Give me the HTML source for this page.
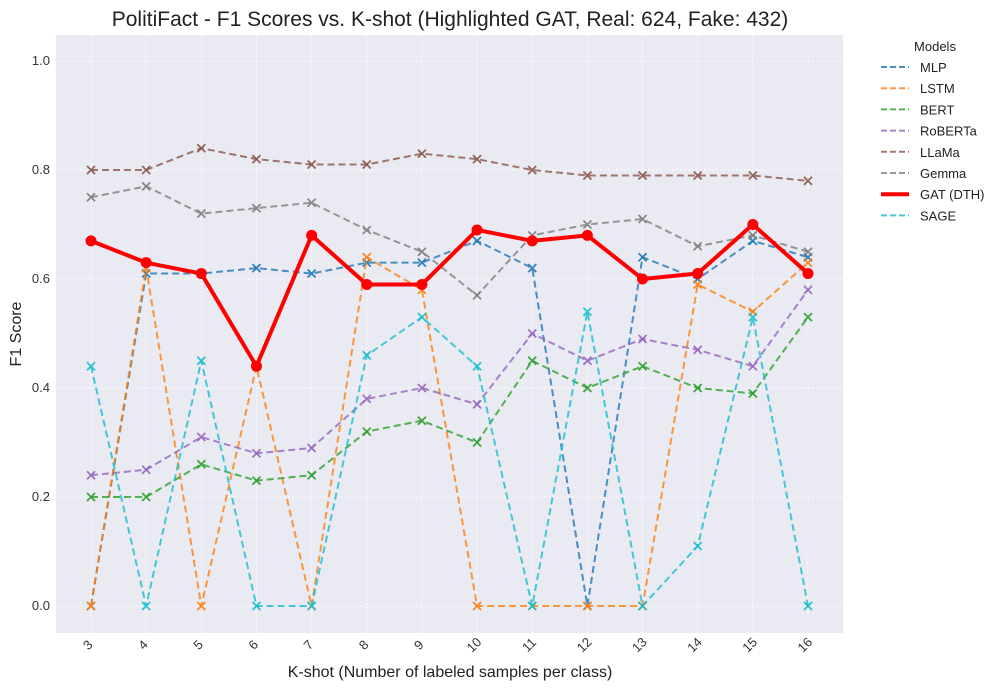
<!DOCTYPE html>
<html><head><meta charset="utf-8"><style>
body{margin:0;background:#fff;font-family:"Liberation Sans",sans-serif;}
svg text{font-family:"Liberation Sans",sans-serif;}
</style></head><body>
<svg id="chart" width="1004" height="690" xmlns="http://www.w3.org/2000/svg">
<rect x="0" y="0" width="1004" height="690" fill="#fff"/>
<text x="450" y="26" text-anchor="middle" font-size="21" fill="#222">PolitiFact - F1 Scores vs. K-shot (Highlighted GAT, Real: 624, Fake: 432)</text>
<rect x="56" y="35" width="787" height="598" fill="#eaeaf2"/>
<g id="grid"></g><g id="axes"></g><g id="series"></g>
<text x="450" y="677" text-anchor="middle" font-size="16" fill="#222">K-shot (Number of labeled samples per class)</text>
<text x="21" y="334" text-anchor="middle" font-size="16" fill="#222" transform="rotate(-90 21 334)">F1 Score</text>
<g id="legend"></g>
</svg>
<script>
const kshots=[3,4,5,6,7,8,9,10,11,12,13,14,15,16];
const yTicks=[0.0,0.2,0.4,0.6,0.8,1.0];
const seriesNames=["MLP","LSTM","BERT","RoBERTa","LLaMa","Gemma","GAT (DTH)","SAGE"];
const mlp=[0,.61,.61,.62,.61,.63,.63,.67,.62,0,.64,.60,.67,.64];
const lstm=[0,.62,0,.44,0,.64,.58,0,0,0,0,.59,.54,.63];
const bert=[.20,.20,.26,.23,.24,.32,.34,.30,.45,.40,.44,.40,.39,.53];
const roberta=[.24,.25,.31,.28,.29,.38,.40,.37,.50,.45,.49,.47,.44,.58];
const llama=[.80,.80,.84,.82,.81,.81,.83,.82,.80,.79,.79,.79,.79,.78];
const gemma=[.75,.77,.72,.73,.74,.69,.65,.57,.68,.70,.71,.66,.68,.65];
const gat=[.67,.63,.61,.44,.68,.59,.59,.69,.67,.68,.60,.61,.70,.61];
const sage=[.44,0,.45,0,0,.46,.53,.44,0,.54,0,.11,.53,0];
const colors=["#1f77b4","#ff7f0e","#2ca02c","#9467bd","#8c564b","#7f7f7f","#ff0000","#17becf"];
const allData=[mlp,lstm,bert,roberta,llama,gemma,gat,sage];
const NS="http://www.w3.org/2000/svg";
const xS=i=>91+i*(717/13);
const yS=v=>606-545*v;
function mk(tag,attrs,parent){const e=document.createElementNS(NS,tag);for(const k in attrs)e.setAttribute(k,attrs[k]);parent.appendChild(e);return e;}
const grid=document.getElementById('grid'),axes=document.getElementById('axes'),ser=document.getElementById('series'),leg=document.getElementById('legend');
yTicks.forEach(t=>{
 const l=mk('line',{x1:56,x2:843,y1:yS(t),y2:yS(t),stroke:'#fff','stroke-width':0.8,'stroke-dasharray':'2,2'},grid);
 
 
 const tx=mk('text',{x:50,y:yS(t)+4,'text-anchor':'end','font-size':13,fill:'#333'},axes);
 tx.textContent=t.toFixed(1);
 
 
});
kshots.forEach((k,i)=>{
 const l=mk('line',{x1:xS(i),x2:xS(i),y1:35,y2:633,stroke:'#fff','stroke-width':0.8,'stroke-dasharray':'2,2'},grid);
 
 
 const x=xS(i),y=648;
 const tx=mk('text',{x:x,y:y,'text-anchor':'middle','font-size':13,fill:'#333',transform:`rotate(-45 ${x} ${y})`},axes);
 tx.textContent=k;
 
 
});
const order=[0,1,2,3,4,5,7,6];
order.forEach(si=>{
 const d=allData[si],c=colors[si],isGat=si===6;
 const g=mk('g',{},ser);
 
 
 const pts=d.map((v,i)=>xS(i)+','+yS(v)).join(' ');
 const pl=mk('polyline',{points:pts,fill:'none',stroke:c,'stroke-width':isGat?4:2,'stroke-dasharray':isGat?'none':'7,4',opacity:isGat?1:0.8,'stroke-linejoin':'round'},g);
 
 
 d.forEach((v,i)=>{
  const x=xS(i),y=yS(v);
  if(isGat){
   const m=mk('circle',{cx:x,cy:y,r:5.5,fill:c},g);
   
   
  } else {
   const m=mk('path',{d:`M${x-4},${y-4}L${x+4},${y+4}M${x-4},${y+4}L${x+4},${y-4}`,stroke:c,'stroke-width':1.8,opacity:0.9},g);
   
   
  }
 });
});
const lt=mk('text',{x:935,y:51,'text-anchor':'middle','font-size':13,fill:'#222'},leg);
lt.textContent='Models';


seriesNames.forEach((n,i)=>{
 const y=67+i*21.2,isGat=i===6;
 const g=mk('g',{},leg);
 
 
 mk('line',{x1:881,x2:909,y1:y,y2:y,stroke:colors[i],'stroke-width':isGat?4:2,'stroke-dasharray':isGat?'none':'6,3',opacity:isGat?1:0.8},g);
 const t=mk('text',{x:920,y:y+5,'font-size':13,fill:'#222'},g);
 t.textContent=n;
});
</script>
</body></html>
